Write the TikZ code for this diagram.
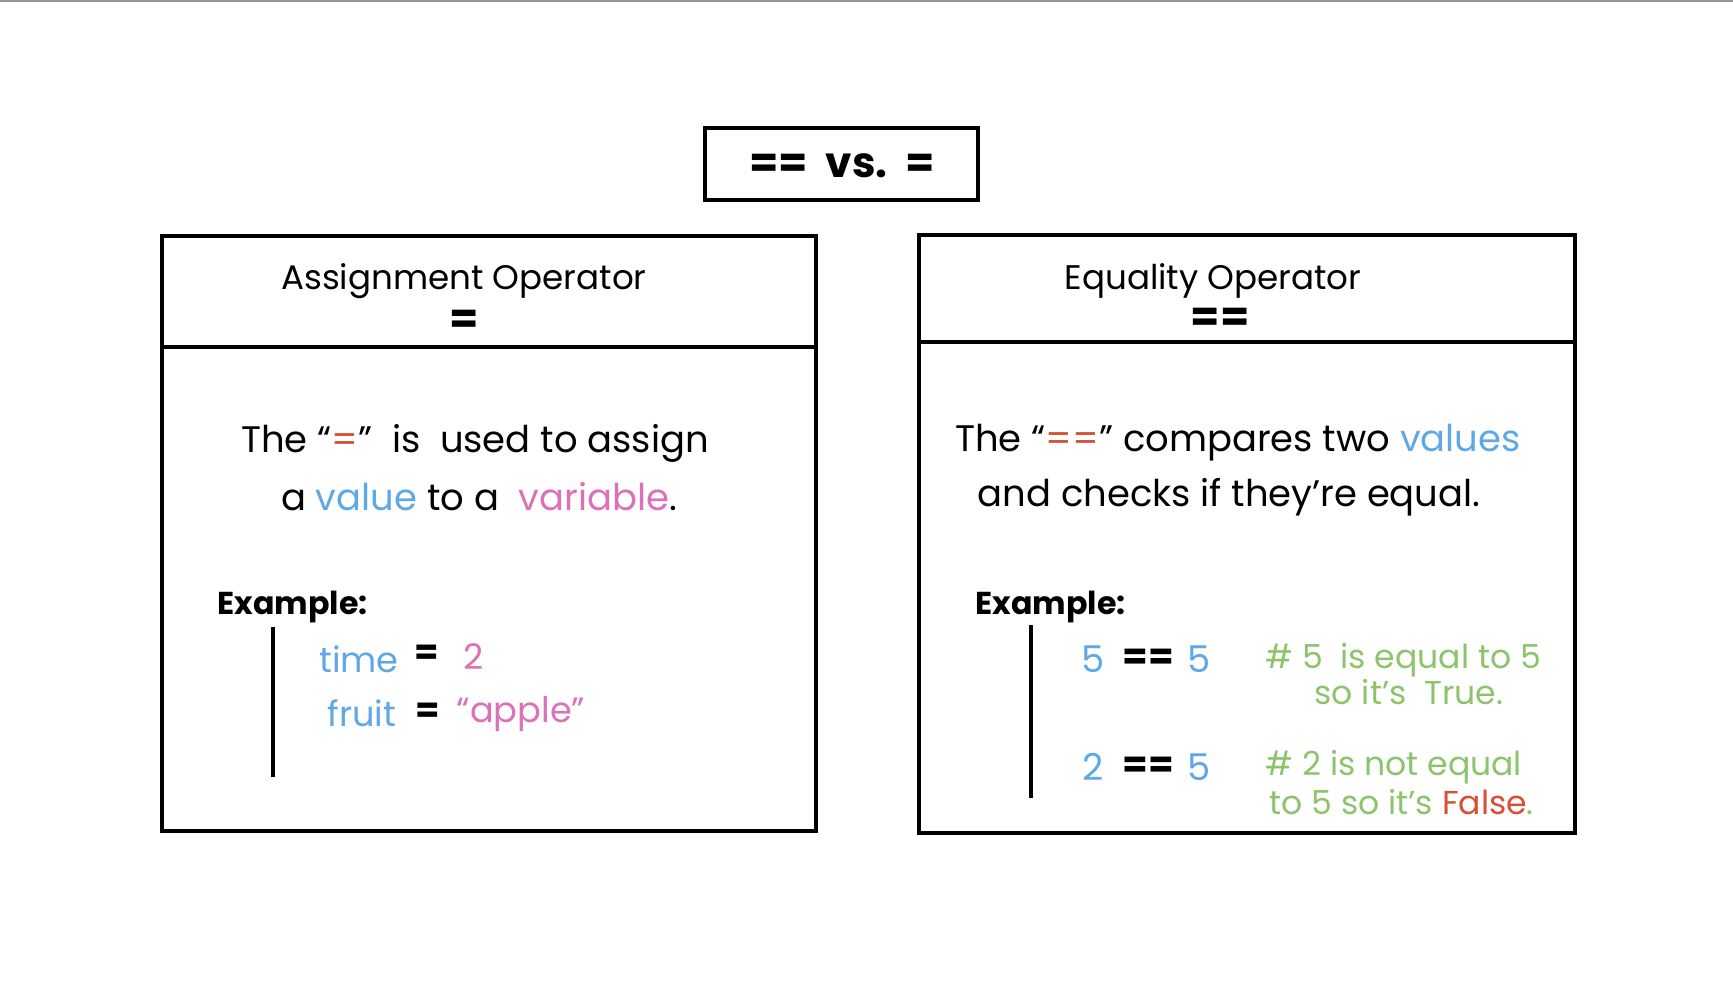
\documentclass[tikz,border=0pt]{standalone}
\usepackage{fontspec}
\setmainfont{Poppins}
\usepackage{xcolor}
\usepackage{tikz}
\usetikzlibrary{positioning}
\definecolor{OpBlue}{RGB}{94,168,232}
\definecolor{OpPink}{RGB}{222,112,186}
\definecolor{OpRed}{RGB}{214,80,52}
\definecolor{OpGreen}{RGB}{140,196,108}
\definecolor{OpGray}{RGB}{150,150,150}

\begin{document}
\begin{tikzpicture}[x=0.01cm, y=-0.01cm,
          panel/.style={draw, line width=1.15pt},
          bar/.style={line width=1.15pt},
          hd/.style={font=\fontsize{9.7}{12}\selectfont},
          sym/.style={font=\fontsize{12}{14}\selectfont\bfseries},
          body/.style={font=\fontsize{10.5}{13}\selectfont},
          exlbl/.style={font=\fontsize{9}{11}\selectfont\bfseries, anchor=west, inner sep=0pt},
          code/.style={font=\fontsize{10}{12}\selectfont},
          note/.style={font=\fontsize{9.4}{11}\selectfont, text=OpGreen, anchor=west, inner sep=0pt}
        ]
        \useasboundingbox (0,0) rectangle (1733,987);
        \draw[OpGray, line width=0.6pt] (0,1) -- (1733,1);

        % Title
        \draw[panel, line width=1.4pt] (705,128) rectangle (978,200);
        \node[sym] (ttl) at (842,166) {==\ \ vs.\ \ =};

        % Assignment panel
        \draw[panel] (162,236) rectangle (816,831);
        \draw[panel] (162,347) -- (816,347);
        \node[hd] (asgT) at (464,281) {Assignment Operator};
        \node[sym] (asgS) at (464,322) {=};
        \node[body] (asgL1) at (475,443) {The “\textcolor{OpRed}{=}”\ \ is\ \ used to assign};
        \node[body] (asgL2) at (479,497) {a \textcolor{OpBlue}{value} to a\ \ \textcolor{OpPink}{variable}.};
        \node[exlbl] (asgEx) at (217,607) {Example:};
        \coordinate (asgTop) at (273,627);
        \coordinate (asgBot) at (273,777);
        \draw[bar] (asgTop) -- (asgBot);
        \node[code, text=OpBlue] (v1) at (359,659) {time};
        \node[code, font=\fontsize{10}{12}\selectfont\bfseries] (e1) at (427,655) {=};
        \node[code, text=OpPink] (n1) at (474,657) {2};
        \node[code, text=OpBlue] (v2) at (362,713) {fruit};
        \node[code, font=\fontsize{10}{12}\selectfont\bfseries] (e2) at (428,713) {=};
        \node[code, text=OpPink] (n2) at (521,714) {“apple”};

        % Equality panel
        \draw[panel] (919,235) rectangle (1575,833);
        \draw[panel] (919,342) -- (1575,342);
        \node[hd] (eqT) at (1213,281) {Equality Operator};
        \node[sym] (eqS) at (1220,320) {==};
        \node[body] (eqL1) at (1238,443) {The “\textcolor{OpRed}{==}” compares two \textcolor{OpBlue}{values}};
        \node[body] (eqL2) at (1229,497) {and checks if they’re equal.};
        \node[exlbl] (eqEx) at (975,607) {Example:};
        \coordinate (eqTop) at (1031,625);
        \coordinate (eqBot) at (1031,798);
        \draw[bar] (eqTop) -- (eqBot);
        \foreach \y/\a/\b in {659/5/5, 767/2/5} {
          \node[code, font=\fontsize{10.5}{12}\selectfont, text=OpBlue] (a\a) at (1093,\y) {\a};
          \node[sym, font=\fontsize{10.5}{12}\selectfont\bfseries] (c\a) at (1148,\y) {==};
          \node[code, font=\fontsize{10.5}{12}\selectfont, text=OpBlue] (b\a) at (1199,\y) {\b};
        }
        \node[note] (m1) at (1265,660) {\# 5\ \ is equal to 5};
        \node[note] (m2) at (1314,692) {so it’s\ \ True.};
        \node[note] (m3) at (1265,767) {\#\ 2 is not equal};
        \node[note] (m4) at (1269,802) {to 5 so it’s \textcolor{OpRed}{False}.};
      \end{tikzpicture}
\end{document}
